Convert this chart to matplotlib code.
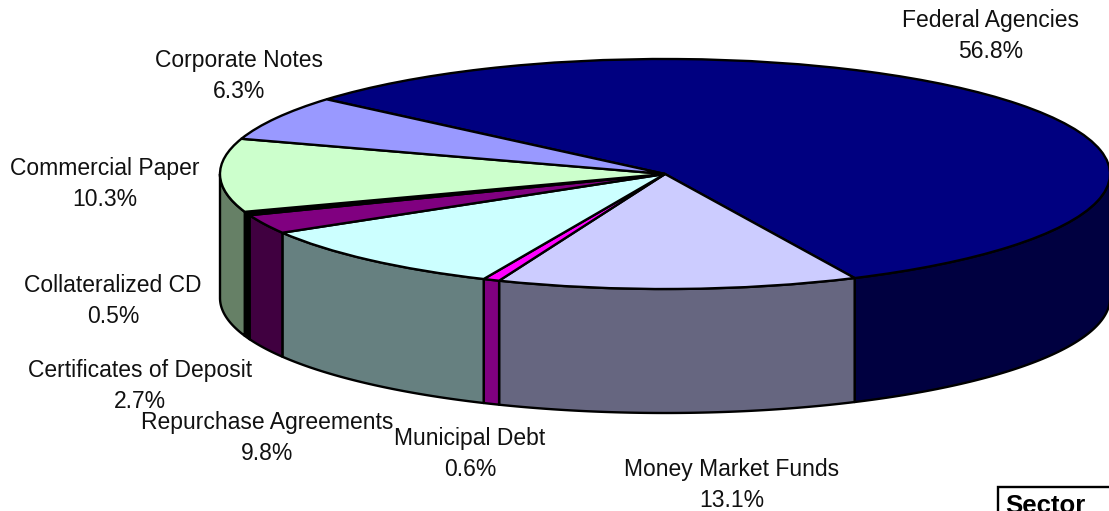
import numpy as np
import matplotlib
matplotlib.use('Agg')
import matplotlib.pyplot as plt
from matplotlib.patches import Rectangle

plt.rcParams['font.family'] = ['Liberation Sans', 'DejaVu Sans']

# sectors clockwise from the start angle
sectors = ['Federal Agencies', 'Money Market Funds', 'Municipal Debt', 'Repurchase Agreements',
           'Certificates of Deposit', 'Collateralized CD', 'Commercial Paper', 'Corporate Notes']
shares = [56.8, 13.1, 0.6, 9.8, 2.7, 0.5, 10.3, 6.3]
top_colors = ['#000080', '#CCCCFF', '#FF00FF', '#CCFFFF', '#800080', '#000000', '#CCFFCC', '#9999FF']
side_colors = ['#000040', '#666680', '#800080', '#668080', '#400040', '#000000', '#668066', '#4C4C80']

W, H = 1109, 511
cx, cy = 665, 174  # pie centre, pixels
rx, ry = 445, 115  # squashed radius
depth = 124 / ry
start = 139.5

fig = plt.figure(figsize=(W / 100, H / 100), dpi=100)
ax = fig.add_axes([0, 0, 1, 1])

# walls first, pie on top
total = sum(shares)
edges = start - np.cumsum([0] + shares) * 360 / total
for i in range(len(shares)):
    a0 = min(edges[i], 0)
    a1 = max(edges[i + 1], -180)
    if a0 <= a1:
        continue
    t = np.radians(np.linspace(a0, a1, 80))
    x = np.cos(t)
    y = np.sin(t)
    ax.fill(np.r_[x, x[::-1]], np.r_[y, y[::-1] - depth], facecolor=side_colors[i],
            edgecolor='black', linewidth=1.7, joinstyle='round')

ax.pie(shares, colors=top_colors, startangle=start, counterclock=False, radius=1,
       wedgeprops={'edgecolor': 'black', 'linewidth': 1.7}, normalize=True)
ax.set_aspect('auto')
ax.set_xlim(-cx / rx, (W - cx) / rx)
ax.set_ylim((cy - H) / ry, cy / ry)
ax.axis('off')

# label centres, pixels from top left
label_x = [991, 732, 470, 267, 140, 113, 105, 239]
label_y = [36, 485, 454, 438, 386, 301, 184, 76]
for name, share, lx, ly in zip(sectors, shares, label_x, label_y):
    fig.text(lx / W, 1 - ly / H, name + '\n' + str(share) + '%', ha='center', va='center',
             fontsize=16.5, linespacing=1.42, color='#111111')

# top of the table that runs off the page
fig.add_artist(Rectangle((998 / W, -0.05), 0.2, 1 - 487 / H + 0.05, transform=fig.transFigure,
                         facecolor='white', edgecolor='black', linewidth=1.7))
fig.text(1005 / W, 1 - 506 / H, 'Sector', ha='left', va='center', fontsize=18.5, fontweight='bold')

fig.savefig('out.png', dpi=100)
